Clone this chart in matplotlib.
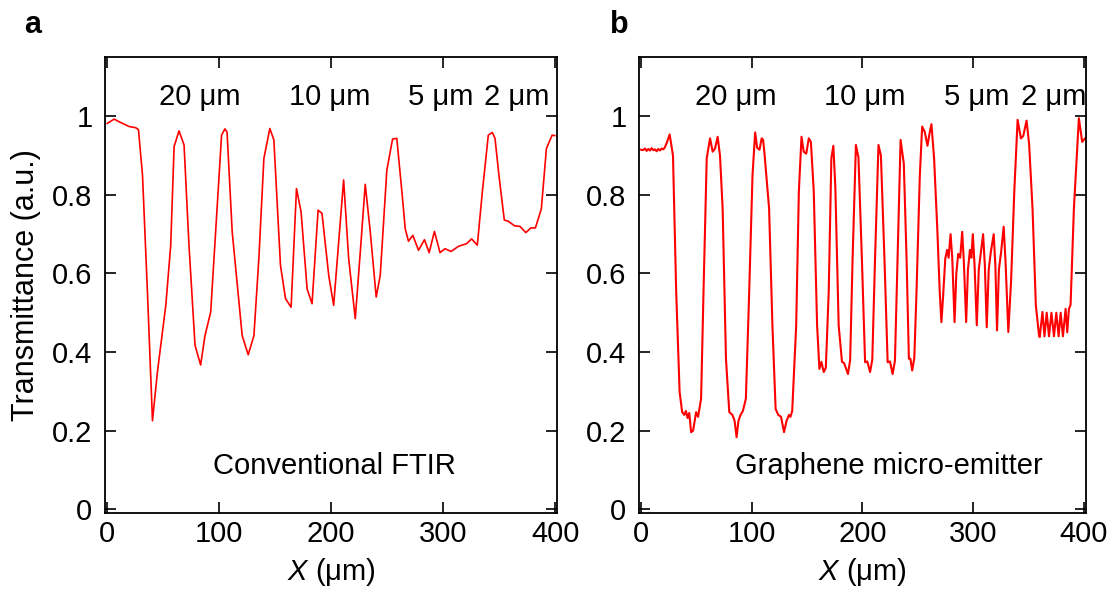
import numpy as np
import matplotlib.pyplot as plt

plt.rcParams['font.family'] = ['Liberation Sans', 'DejaVu Sans']
plt.rcParams['mathtext.fontset'] = 'custom'
plt.rcParams['mathtext.it'] = 'Liberation Sans:italic'
plt.rcParams['mathtext.rm'] = 'Liberation Sans'

# panel a: conventional FTIR (coarse sampling)
x_ftir = [0, 6.2, 10.7, 19.6, 25.5, 27.9, 31.5, 35.9, 40.4, 44.8, 52.3, 56.7, 59.7, 64.1,
          68.6, 73, 78.4, 83.4, 87.3, 92.4, 96.8, 102.1, 105.1, 107, 111.6, 120.5, 125.9,
          131, 135.4, 139.9, 145.2, 148.8, 154.7, 159.2, 164.2, 169, 173.1, 178.5, 182.9,
          188.3, 191.8, 197.8, 202.2, 211.1, 215.6, 221.5, 226, 230.4, 234.9, 240.2, 243.8,
          249.7, 254.8, 258.6, 263.7, 266.1, 269, 272.9, 278, 283.3, 287.5, 292.2, 297.2,
          301.7, 307, 313.6, 321, 325.4, 330.5, 335, 340.3, 343.9, 346.3, 349.8, 354.6,
          358, 364, 368.5, 373.8, 378.3, 382.4, 387.7, 392.2, 397.3, 399.7]
y_ftir = [0.982, 0.993, 0.986, 0.974, 0.971, 0.966, 0.85, 0.553, 0.225, 0.349, 0.519, 0.672,
          0.923, 0.963, 0.927, 0.672, 0.417, 0.367, 0.442, 0.502, 0.706, 0.952, 0.968, 0.96,
          0.706, 0.442, 0.393, 0.442, 0.638, 0.893, 0.969, 0.94, 0.621, 0.536, 0.514, 0.816,
          0.757, 0.561, 0.523, 0.761, 0.753, 0.595, 0.519, 0.838, 0.638, 0.485, 0.655, 0.827,
          0.706, 0.54, 0.595, 0.863, 0.942, 0.944, 0.791, 0.714, 0.682, 0.697, 0.659, 0.686,
          0.653, 0.707, 0.653, 0.663, 0.656, 0.669, 0.676, 0.688, 0.672, 0.808, 0.952, 0.959,
          0.944, 0.85, 0.736, 0.733, 0.721, 0.72, 0.704, 0.716, 0.716, 0.765, 0.918, 0.952,
          0.951]

# panel b: graphene micro-emitter
x_emit = [0, 1.8, 3.5, 5, 6.5, 8, 9.5, 11, 12.5, 14, 15.5, 17, 18.5, 20, 21.3, 23.5, 25.8,
          28.8, 31.7, 34.8, 37.1, 39, 40.5, 42, 43.5, 45.2, 47, 49.7, 51.5, 54.2, 56.4, 59.3,
          62.3, 64.7, 66.8, 69.2, 71.3, 73.7, 76.7, 79.7, 82.5, 84.5, 86.3, 88, 89.9, 92,
          94.7, 97.7, 100.7, 103.1, 104.9, 107, 109, 110.3, 111.7, 115.7, 118.7, 121.6, 124,
          126.5, 129.2, 131.5, 133.7, 135, 136.6, 140.2, 142.6, 145, 147, 149.3, 151.6,
          153.5, 156.1, 159.1, 161.2, 163, 165.1, 167, 169.6, 172, 173.8, 175.6, 178.6,
          181.6, 183.5, 185, 187, 189, 191.2, 194.2, 196.5, 199.6, 202.5, 204.5, 207, 209,
          211.5, 214.6, 216.8, 220, 222.9, 225, 227.4, 229.5, 231.9, 234.6, 237.5, 240,
          242.1, 243.5, 245.1, 247, 249, 252, 254.1, 256.5, 258.9, 261, 262.5, 264.9, 267.9,
          270, 271.5, 273, 275, 276.7, 278, 279.8, 281.3, 283.4, 285, 286.7, 288.5, 290.3,
          291.8, 293.9, 295.5, 297.3, 298.6, 299.9, 301.5, 303.5, 305.3, 307.2, 309.2,
          310.8, 312.5, 314.3, 316.2, 318.8, 320.3, 321.8, 323.5, 325.5, 327.8, 329.5, 332,
          334.5, 337.4, 340.4, 343.4, 345.5, 348.5, 350.8, 353.9, 356.9, 359.8, 360.4,
          362.9, 364.7, 366.7, 368.8, 371, 373.3, 375.4, 377.5, 379.3, 381.4, 383.8, 385.3,
          386.8, 388.3, 391.3, 395.8, 398.8, 402]
y_emit = [0.915, 0.914, 0.918, 0.912, 0.917, 0.913, 0.919, 0.914, 0.916, 0.911, 0.917,
          0.913, 0.918, 0.916, 0.92, 0.935, 0.954, 0.9, 0.553, 0.298, 0.247, 0.24, 0.25,
          0.232, 0.245, 0.196, 0.2, 0.247, 0.235, 0.281, 0.553, 0.893, 0.944, 0.91, 0.918,
          0.948, 0.9, 0.765, 0.383, 0.247, 0.24, 0.225, 0.183, 0.225, 0.24, 0.25, 0.281,
          0.553, 0.85, 0.959, 0.92, 0.915, 0.944, 0.94, 0.9, 0.765, 0.468, 0.255, 0.24, 0.235,
          0.196, 0.225, 0.24, 0.235, 0.25, 0.468, 0.808, 0.948, 0.91, 0.905, 0.944, 0.935,
          0.808, 0.468, 0.357, 0.375, 0.349, 0.36, 0.553, 0.893, 0.925, 0.82, 0.468, 0.375,
          0.372, 0.36, 0.344, 0.38, 0.638, 0.927, 0.895, 0.638, 0.374, 0.376, 0.349, 0.38,
          0.638, 0.927, 0.9, 0.638, 0.374, 0.376, 0.344, 0.378, 0.638, 0.94, 0.88, 0.638,
          0.383, 0.383, 0.353, 0.385, 0.553, 0.85, 0.974, 0.96, 0.925, 0.96, 0.98, 0.893,
          0.706, 0.553, 0.476, 0.54, 0.638, 0.66, 0.64, 0.70, 0.64, 0.476, 0.60, 0.65, 0.64,
          0.706, 0.63, 0.476, 0.61, 0.66, 0.64, 0.70, 0.62, 0.468, 0.61, 0.655, 0.70, 0.62,
          0.463, 0.61, 0.655, 0.70, 0.62, 0.455, 0.61, 0.655, 0.719, 0.63, 0.451, 0.58,
          0.808, 0.991, 0.944, 0.95, 0.989, 0.93, 0.765, 0.519, 0.442, 0.438, 0.502, 0.44,
          0.50, 0.44, 0.50, 0.44, 0.50, 0.44, 0.50, 0.44, 0.51, 0.45, 0.51, 0.52, 0.765,
          0.995, 0.935, 0.946]

xticks = [0, 100, 200, 300, 400]
yticks = [0, 0.2, 0.4, 0.6, 0.8, 1.0]
ytick_labels = ['0', '0.2', '0.4', '0.6', '0.8', '1']
ann_a = [(83, '20 μm'), (198.6, '10 μm'), (298, '5 μm'), (366, '2 μm')]
ann_b = [(86, '20 μm'), (202, '10 μm'), (303.7, '5 μm'), (372.6, '2 μm')]

fs = 21
fig = plt.figure(figsize=(11.17, 5.98), dpi=100)
ax_a = fig.add_axes([0.094, 0.142, 0.405, 0.762])
ax_b = fig.add_axes([0.572, 0.142, 0.400, 0.762])

panels = [(ax_a, x_ftir, y_ftir, 1.2, ann_a, 203, 'Conventional FTIR', 'a', 0.022),
          (ax_b, x_emit, y_emit, 1.5, ann_b, 224, 'Graphene micro-emitter', 'b', 0.546)]

for ax, xs, ys, lw, ann, nx, name, letter, lx in panels:
    ax.plot(xs, ys, color='#ff0000', lw=lw)
    ax.set_xlim(-2, 402)
    ax.set_ylim(-0.01, 1.15)
    ax.set_xticks(xticks)
    ax.set_yticks(yticks)
    ax.set_yticklabels(ytick_labels)
    ax.tick_params(direction='in', length=8, width=1.2, top=True, right=True,
                   labelsize=fs)
    ax.tick_params(axis='x', pad=5)
    ax.tick_params(axis='y', pad=9)
    for s in ax.spines.values():
        s.set_linewidth(1.3)
    ax.set_xlabel(r'$\it{X}$ (μm)', fontsize=fs, labelpad=6)
    for xv, t in ann:
        ax.text(xv, 1.028, t, fontsize=fs, ha='center', va='baseline')
    ax.text(nx, 0.11, name, fontsize=fs, ha='center', va='center')
    fig.text(lx, 0.958, letter, fontsize=22, fontweight='bold', ha='left', va='center')

ax_a.set_ylabel('Transmittance (a.u.)', fontsize=22, labelpad=8)

fig.savefig('out.png', dpi=100)
